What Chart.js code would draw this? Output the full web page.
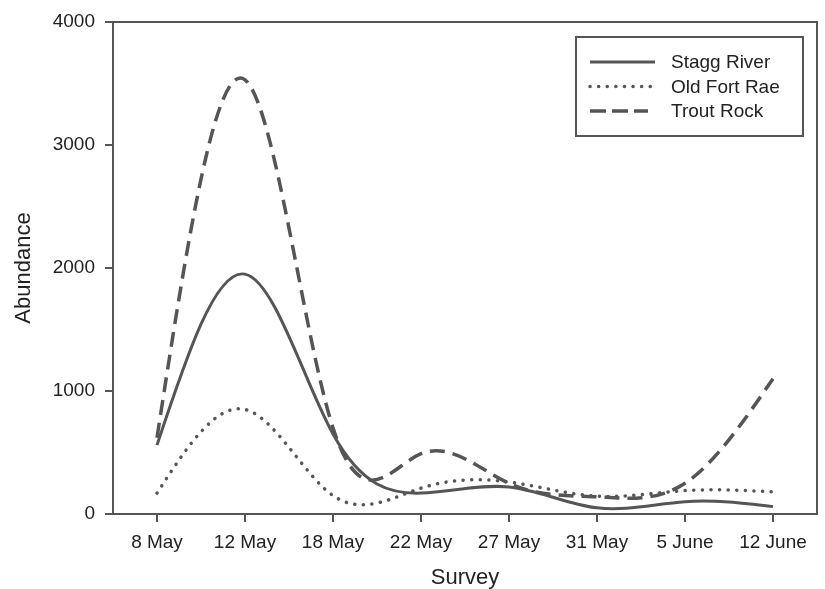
<!DOCTYPE html>
<html>
<head>
<meta charset="utf-8">
<script src="https://cdn.jsdelivr.net/npm/chart.js@4"></script>
<style>
  html, body { margin: 0; padding: 0; background: #fff; }
  #wrap { width: 825px; height: 589px; }
</style>
</head>
<body>
<div id="wrap"><canvas id="surveyChart" width="825" height="589"></canvas></div>
<script>
const surveys = ['8 May', '12 May', '18 May', '22 May', '27 May', '31 May', '5 June', '12 June'];
const staggRiver = [560, 1950, 650, 170, 220, 50, 100, 60];
const oldFortRae = [170, 850, 150, 210, 260, 145, 190, 180];
const troutRock = [620, 3530, 700, 490, 250, 140, 250, 1100];
const yTicks = [0, 1000, 2000, 3000, 4000];

const lineColor = '#555';
const textColor = '#222';
const fontFamily = 'Arial, "Liberation Sans", sans-serif';

// natural cubic spline through the points the line element already placed
function naturalSpline(points) {
  const n = points.length;
  if (n < 3) return;
  const h = [];
  for (let i = 0; i < n - 1; i++) h.push(points[i + 1].x - points[i].x);
  const a = new Array(n).fill(0), b = new Array(n).fill(1), c = new Array(n).fill(0), r = new Array(n).fill(0);
  for (let i = 1; i < n - 1; i++) {
    a[i] = h[i - 1];
    b[i] = 2 * (h[i - 1] + h[i]);
    c[i] = h[i];
    r[i] = 6 * ((points[i + 1].y - points[i].y) / h[i] - (points[i].y - points[i - 1].y) / h[i - 1]);
  }
  for (let i = 1; i < n; i++) {
    const m = a[i] / b[i - 1];
    b[i] -= m * c[i - 1];
    r[i] -= m * r[i - 1];
  }
  const M = new Array(n).fill(0);
  M[n - 1] = r[n - 1] / b[n - 1];
  for (let i = n - 2; i >= 0; i--) M[i] = (r[i] - c[i] * M[i + 1]) / b[i];

  const d = [];
  for (let i = 0; i < n - 1; i++) {
    d.push((points[i + 1].y - points[i].y) / h[i] - h[i] * (2 * M[i] + M[i + 1]) / 6);
  }
  d.push((points[n - 1].y - points[n - 2].y) / h[n - 2] + h[n - 2] * (M[n - 2] + 2 * M[n - 1]) / 6);

  points.forEach((p, i) => {
    const hl = i > 0 ? h[i - 1] : 0;
    const hr = i < n - 1 ? h[i] : 0;
    p.cp1x = p.x - hl / 3;
    p.cp1y = p.y - d[i] * hl / 3;
    p.cp2x = p.x + hr / 3;
    p.cp2y = p.y + d[i] * hr / 3;
  });
}

const splinePlugin = {
  id: 'splinePlugin',
  beforeDatasetDraw(chart, args) {
    const line = args.meta.dataset;
    naturalSpline(args.meta.data);
    line._pointsUpdated = true;
    line._path = undefined;
  }
};

// frame round the plot plus the boxed legend in the top right
const frameAndLegend = {
  id: 'frameAndLegend',
  afterDraw(chart) {
    const ctx = chart.ctx;
    const a = chart.chartArea;
    ctx.save();
    ctx.strokeStyle = '#555';
    ctx.lineWidth = 2;
    ctx.strokeRect(a.left, a.top, a.right - a.left, a.bottom - a.top);

    const bx = 576, by = 37, bw = 227, bh = 99;
    ctx.lineWidth = 2;
    ctx.strokeRect(bx, by, bw, bh);
    ctx.font = '19px ' + fontFamily;
    ctx.textBaseline = 'middle';
    chart.data.datasets.forEach((ds, i) => {
      const y = 62 + i * 24.5;
      ctx.strokeStyle = ds.borderColor;
      ctx.lineWidth = ds.borderWidth;
      ctx.lineCap = ds.borderCapStyle || 'butt';
      ctx.setLineDash(ds.legendDash || ds.borderDash || []);
      ctx.beginPath();
      ctx.moveTo(590, y);
      ctx.lineTo(i === 2 ? 648 : 655, y);
      ctx.stroke();
      ctx.setLineDash([]);
      ctx.fillStyle = textColor;
      ctx.fillText(ds.label, 671, y + 1);
    });
    ctx.restore();
  }
};

new Chart(document.getElementById('surveyChart').getContext('2d'), {
  type: 'line',
  data: {
    labels: surveys,
    datasets: [
      {
        label: 'Stagg River',
        data: staggRiver,
        borderColor: lineColor,
        borderWidth: 3,
        pointRadius: 0,
        tension: 0.4,
        fill: false,
      },
      {
        label: 'Old Fort Rae',
        data: oldFortRae,
        borderColor: lineColor,
        borderWidth: 3.5,
        borderDash: [0.1, 8.5],
        legendDash: [0.1, 8.5],
        borderCapStyle: 'round',
        pointRadius: 0,
        tension: 0.4,
        fill: false,
      },
      {
        label: 'Trout Rock',
        data: troutRock,
        borderColor: lineColor,
        borderWidth: 3.5,
        borderDash: [15, 8],
        legendDash: [16, 6],
        pointRadius: 0,
        tension: 0.4,
        fill: false,
      },
    ],
  },
  options: {
    responsive: false,
    animation: false,
    layout: { padding: { left: 0, top: 22, right: 8, bottom: 0 } },
    plugins: {
      legend: { display: false },
      tooltip: { enabled: false },
    },
    scales: {
      x: {
        type: 'category',
        offset: true,
        grid: {
          offset: false,
          drawOnChartArea: false,
          drawTicks: true,
          tickLength: 8,
          color: '#555',
          lineWidth: 2,
        },
        border: { display: true, color: '#555', width: 2 },
        ticks: {
          color: textColor,
          font: { family: fontFamily, size: 19 },
          padding: 9,
          maxRotation: 0,
          autoSkip: false,
        },
        title: {
          display: true,
          text: 'Survey',
          color: textColor,
          font: { family: fontFamily, size: 22, lineHeight: 1 },
          padding: { top: 0, bottom: 0 },
        },
        afterFit(scale) { scale.height = 75; },
      },
      y: {
        min: 0,
        max: 4000,
        afterBuildTicks(scale) { scale.ticks = yTicks.map(v => ({ value: v })); },
        grid: {
          drawOnChartArea: false,
          drawTicks: true,
          tickLength: 8,
          color: '#555',
          lineWidth: 2,
        },
        border: { display: true, color: '#555', width: 2 },
        ticks: {
          color: textColor,
          font: { family: fontFamily, size: 19 },
          padding: 10,
          callback: v => String(v),
        },
        title: {
          display: true,
          text: 'Abundance',
          color: textColor,
          font: { family: fontFamily, size: 22, lineHeight: 1 },
          padding: { top: 13, bottom: 0 },
        },
        afterFit(scale) { scale.width = 113; },
      },
    },
  },
  plugins: [splinePlugin, frameAndLegend],
});
</script>
</body>
</html>
